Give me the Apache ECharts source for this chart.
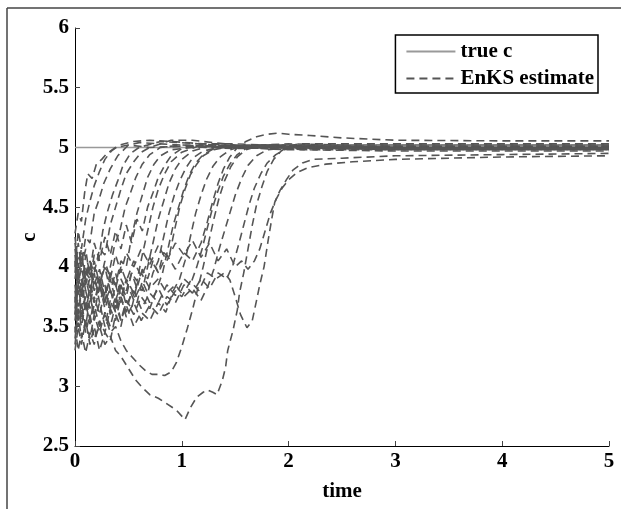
<!DOCTYPE html>
<html>
<head>
<meta charset="utf-8">
<script src="https://cdn.jsdelivr.net/npm/echarts@6/dist/echarts.min.js"></script>
<style>
html,body{margin:0;padding:0;background:#fff;}
#chart{width:621px;height:509px;}
</style>
</head>
<body>
<div id="chart"></div>
<script>
// ---- axis ticks ----
var xTicks = [0, 1, 2, 3, 4, 5];
var yTicks = [2.5, 3, 3.5, 4, 4.5, 5, 5.5, 6];

// ---- true parameter ----
var trueC = [[0, 5], [5, 5]];

// ---- EnKS ensemble estimates, [time, c] ----
var c01 = [[0,4.28],[0.03,4.45],[0.06,4.38],[0.09,4.62],[0.12,4.78],[0.16,4.74],[0.2,4.86],[0.25,4.9],[0.3,4.95],[0.38,5.0],[0.5,5.02],[0.7,5.0],[1.0,5.01],[1.5,4.99],[2,5.0],[3,5.0],[4,5.0],[5,5.0]];
var c02 = [[0,3.9],[0.03,4.1],[0.06,4.02],[0.1,4.25],[0.14,4.2],[0.18,4.45],[0.22,4.55],[0.27,4.7],[0.33,4.82],[0.4,4.93],[0.5,5.02],[0.6,5.04],[0.8,5.03],[1.0,5.02],[1.5,5.0],[2,5.01],[3,5.01],[5,5.01]];
var c03 = [[0,3.6],[0.03,3.85],[0.06,3.75],[0.1,3.95],[0.14,3.9],[0.18,4.1],[0.22,4.05],[0.26,4.3],[0.3,4.45],[0.35,4.6],[0.4,4.72],[0.45,4.85],[0.52,4.95],[0.6,5.0],[0.8,5.05],[1.0,5.04],[1.3,5.02],[1.7,5.0],[2.2,4.99],[3,4.99],[5,4.99]];
var c04 = [[0,4.2],[0.03,3.95],[0.06,4.1],[0.1,3.9],[0.14,4.05],[0.18,3.95],[0.23,4.15],[0.28,4.1],[0.33,4.35],[0.38,4.5],[0.43,4.65],[0.48,4.78],[0.55,4.88],[0.62,4.96],[0.7,5.0],[0.9,5.06],[1.1,5.06],[1.3,5.04],[1.6,5.01],[2,5.0],[3,5.0],[5,5.0]];
var c05 = [[0,3.45],[0.03,3.7],[0.06,3.55],[0.1,3.8],[0.14,3.65],[0.18,3.9],[0.22,3.78],[0.27,4.0],[0.32,3.95],[0.37,4.18],[0.42,4.3],[0.47,4.5],[0.52,4.62],[0.57,4.75],[0.63,4.86],[0.7,4.94],[0.8,5.0],[1.0,5.02],[1.3,5.01],[2,4.98],[3,4.98],[5,4.98]];
var c06 = [[0,3.8],[0.03,3.55],[0.06,3.7],[0.1,3.5],[0.14,3.75],[0.18,3.6],[0.23,3.85],[0.28,3.7],[0.33,3.95],[0.38,3.85],[0.43,4.05],[0.48,4.0],[0.53,4.25],[0.58,4.45],[0.63,4.6],[0.68,4.75],[0.74,4.86],[0.8,4.93],[0.9,4.98],[1.1,5.0],[1.5,5.01],[2,5.02],[3,5.02],[5,5.02]];
var c07 = [[0,4.05],[0.03,3.75],[0.06,3.9],[0.1,3.65],[0.14,3.8],[0.18,3.55],[0.23,3.7],[0.28,3.5],[0.33,3.72],[0.38,3.62],[0.43,3.85],[0.48,3.75],[0.53,3.95],[0.58,3.88],[0.63,4.1],[0.68,4.3],[0.73,4.5],[0.78,4.65],[0.84,4.78],[0.9,4.88],[1.0,4.96],[1.15,5.01],[1.4,5.02],[2,5.0],[3,5.0],[5,5.0]];
var c08 = [[0,3.35],[0.03,3.6],[0.06,3.4],[0.1,3.55],[0.14,3.35],[0.18,3.5],[0.23,3.3],[0.28,3.45],[0.33,3.38],[0.38,3.6],[0.43,3.5],[0.48,3.72],[0.53,3.65],[0.58,3.85],[0.63,3.8],[0.68,4.0],[0.73,4.2],[0.78,4.4],[0.83,4.55],[0.88,4.7],[0.94,4.82],[1.0,4.9],[1.1,4.97],[1.25,5.01],[1.6,5.0],[2,4.99],[3,4.99],[5,4.99]];
var c09 = [[0,3.7],[0.03,4.0],[0.06,3.8],[0.1,4.1],[0.14,3.95],[0.18,4.2],[0.23,4.05],[0.28,4.25],[0.33,4.1],[0.38,4.3],[0.43,4.15],[0.48,4.35],[0.53,4.2],[0.58,4.4],[0.63,4.3],[0.68,4.5],[0.73,4.62],[0.78,4.75],[0.84,4.85],[0.9,4.93],[1.0,4.99],[1.2,5.03],[1.5,5.03],[2,5.01],[3,5.01],[5,5.01]];
var c10 = [[0,3.5],[0.03,3.3],[0.06,3.45],[0.1,3.28],[0.14,3.45],[0.18,3.35],[0.23,3.55],[0.28,3.45],[0.33,3.65],[0.38,3.55],[0.43,3.75],[0.48,3.62],[0.53,3.8],[0.58,3.7],[0.63,3.88],[0.68,3.78],[0.73,3.95],[0.78,4.05],[0.83,4.25],[0.88,4.45],[0.93,4.6],[0.98,4.72],[1.04,4.83],[1.1,4.91],[1.2,4.97],[1.35,5.0],[1.7,5.0],[2.2,4.98],[3,4.97],[5,4.97]];
var c11 = [[0,4.1],[0.03,3.85],[0.06,4.0],[0.1,3.8],[0.14,3.9],[0.18,3.7],[0.23,3.85],[0.28,3.65],[0.33,3.8],[0.38,3.7],[0.43,3.9],[0.48,3.8],[0.53,3.95],[0.58,3.82],[0.63,3.98],[0.68,3.9],[0.73,4.05],[0.78,3.95],[0.83,4.12],[0.88,4.08],[0.93,4.3],[0.98,4.5],[1.03,4.65],[1.08,4.77],[1.14,4.86],[1.2,4.93],[1.3,4.98],[1.45,5.01],[1.8,5.02],[2.2,5.01],[3,5.01],[5,5.01]];
var c12 = [[0,3.55],[0.03,3.8],[0.06,3.6],[0.1,3.75],[0.14,3.55],[0.18,3.68],[0.23,3.5],[0.28,3.6],[0.33,3.45],[0.38,3.5],[0.43,3.38],[0.48,3.3],[0.53,3.25],[0.6,3.18],[0.66,3.13],[0.72,3.1],[0.78,3.1],[0.84,3.09],[0.9,3.12],[0.95,3.2],[1.0,3.33],[1.05,3.48],[1.1,3.64],[1.15,3.82],[1.2,4.0],[1.25,4.2],[1.3,4.4],[1.35,4.58],[1.4,4.72],[1.46,4.84],[1.52,4.92],[1.6,4.98],[1.75,5.02],[2,5.03],[2.5,5.02],[3,5.02],[5,5.02]];
var c13 = [[0,3.75],[0.03,3.5],[0.06,3.65],[0.1,3.45],[0.14,3.6],[0.18,3.4],[0.23,3.5],[0.28,3.35],[0.33,3.42],[0.38,3.3],[0.43,3.25],[0.5,3.15],[0.57,3.05],[0.63,2.99],[0.7,2.93],[0.78,2.9],[0.85,2.86],[0.95,2.8],[1.03,2.72],[1.08,2.82],[1.14,2.91],[1.2,2.95],[1.24,2.97],[1.29,2.95],[1.33,2.93],[1.38,3.05],[1.41,3.16],[1.43,3.3],[1.48,3.47],[1.52,3.64],[1.54,3.78],[1.58,3.95],[1.62,4.15],[1.66,4.35],[1.7,4.52],[1.75,4.67],[1.8,4.8],[1.86,4.9],[1.93,4.97],[2.0,5.01],[2.1,5.03],[2.5,5.03],[3,5.03],[5,5.03]];
var c14 = [[0,3.95],[0.03,4.2],[0.06,4.0],[0.1,4.15],[0.14,3.9],[0.18,4.05],[0.23,3.85],[0.28,4.0],[0.33,3.8],[0.38,3.95],[0.43,3.75],[0.48,3.88],[0.55,3.72],[0.62,3.85],[0.7,3.7],[0.78,3.82],[0.86,3.68],[0.94,3.8],[1.0,3.75],[1.08,3.88],[1.16,3.8],[1.24,3.95],[1.32,3.9],[1.4,3.95],[1.45,3.89],[1.5,3.75],[1.55,3.6],[1.61,3.49],[1.66,3.55],[1.7,3.72],[1.73,3.85],[1.77,4.0],[1.81,4.23],[1.84,4.39],[1.87,4.54],[1.92,4.64],[1.98,4.73],[2.04,4.81],[2.13,4.87],[2.23,4.9],[2.5,4.91],[3.0,4.93],[4,4.94],[5,4.95]];
var c15 = [[0,3.65],[0.03,3.95],[0.06,3.75],[0.1,4.0],[0.14,3.8],[0.18,3.95],[0.23,3.7],[0.28,3.85],[0.33,3.6],[0.38,3.75],[0.43,3.55],[0.48,3.68],[0.55,3.5],[0.62,3.62],[0.7,3.55],[0.78,3.7],[0.85,3.62],[0.92,3.8],[0.98,3.9],[1.03,4.05],[1.08,4.25],[1.13,4.45],[1.18,4.6],[1.23,4.73],[1.29,4.84],[1.36,4.92],[1.45,4.98],[1.6,5.02],[2,5.02],[3,5.0],[5,5.0]];
var c16 = [[0,4.25],[0.03,4.0],[0.06,4.15],[0.1,3.92],[0.14,4.05],[0.18,3.85],[0.23,3.98],[0.28,3.78],[0.33,3.9],[0.38,3.72],[0.43,3.85],[0.48,3.68],[0.55,3.8],[0.62,3.65],[0.7,3.78],[0.78,3.7],[0.86,3.85],[0.94,3.76],[1.02,3.9],[1.08,3.85],[1.14,4.0],[1.19,4.15],[1.24,4.33],[1.29,4.5],[1.34,4.64],[1.39,4.76],[1.45,4.86],[1.52,4.94],[1.6,4.99],[1.75,5.02],[2,5.01],[3,4.99],[5,4.99]];
var c17 = [[0,3.85],[0.03,3.6],[0.06,3.8],[0.1,3.62],[0.14,3.85],[0.18,3.7],[0.23,3.9],[0.28,3.75],[0.33,3.95],[0.38,3.82],[0.43,4.0],[0.48,3.88],[0.55,4.05],[0.62,3.92],[0.7,4.08],[0.78,3.95],[0.86,4.1],[0.94,3.98],[1.02,4.12],[1.1,4.05],[1.18,4.2],[1.24,4.38],[1.29,4.55],[1.34,4.7],[1.39,4.82],[1.45,4.92],[1.52,5.0],[1.6,5.05],[1.7,5.09],[1.8,5.11],[1.9,5.12],[2.0,5.11],[2.2,5.1],[2.5,5.08],[3.0,5.06],[4,5.055],[5,5.055]];
var c18 = [[0,3.4],[0.03,3.65],[0.06,3.5],[0.1,3.7],[0.14,3.52],[0.18,3.75],[0.23,3.6],[0.28,3.8],[0.33,3.65],[0.38,3.85],[0.43,3.7],[0.48,3.9],[0.55,3.78],[0.62,3.95],[0.7,3.82],[0.78,3.9],[0.86,3.78],[0.94,3.85],[1.02,3.75],[1.1,3.82],[1.18,3.72],[1.25,3.85],[1.3,3.98],[1.35,4.15],[1.4,4.3],[1.45,4.45],[1.5,4.6],[1.56,4.74],[1.62,4.85],[1.7,4.93],[1.8,4.98],[2,5.0],[3,4.98],[5,4.98]];
var c19 = [[0,4.15],[0.03,3.9],[0.06,4.08],[0.1,3.85],[0.14,4.0],[0.18,3.8],[0.23,3.92],[0.28,3.7],[0.33,3.82],[0.38,3.62],[0.43,3.75],[0.48,3.58],[0.55,3.7],[0.62,3.55],[0.7,3.68],[0.78,3.6],[0.86,3.75],[0.94,3.7],[1.02,3.85],[1.1,3.78],[1.18,3.9],[1.26,3.82],[1.34,3.95],[1.42,3.9],[1.48,4.02],[1.53,4.18],[1.58,4.35],[1.63,4.52],[1.68,4.66],[1.74,4.78],[1.8,4.87],[1.88,4.94],[1.96,4.98],[2.1,5.01],[2.5,5.01],[3,5.0],[5,5.0]];
var c20 = [[0,3.6],[0.03,3.85],[0.06,3.65],[0.1,3.9],[0.14,3.75],[0.18,4.0],[0.23,3.85],[0.28,4.05],[0.33,3.9],[0.38,4.1],[0.43,3.95],[0.48,4.12],[0.55,4.0],[0.62,4.15],[0.7,4.02],[0.78,4.18],[0.86,4.05],[0.94,4.2],[1.02,4.1],[1.1,4.22],[1.18,4.08],[1.26,4.2],[1.34,4.05],[1.42,4.15],[1.5,4.0],[1.56,4.05],[1.62,3.98],[1.68,4.05],[1.73,4.15],[1.78,4.3],[1.83,4.45],[1.88,4.56],[1.94,4.66],[2.0,4.73],[2.08,4.79],[2.18,4.83],[2.35,4.86],[2.6,4.88],[3.0,4.9],[3.5,4.91],[4,4.92],[5,4.93]];
var c21 = [[0,4.0],[0.03,4.3],[0.06,4.15],[0.1,4.4],[0.14,4.55],[0.18,4.68],[0.23,4.8],[0.28,4.9],[0.34,4.97],[0.42,5.02],[0.55,5.05],[0.7,5.06],[0.9,5.05],[1.2,5.03],[1.6,5.01],[2,5.0],[3,4.99],[5,4.99]];
var c22 = [[0,3.3],[0.03,3.5],[0.06,3.35],[0.1,3.55],[0.14,3.4],[0.18,3.6],[0.23,3.45],[0.28,3.62],[0.33,3.5],[0.38,3.68],[0.43,3.55],[0.48,3.72],[0.55,3.6],[0.62,3.75],[0.7,3.65],[0.76,3.8],[0.82,3.95],[0.87,4.15],[0.92,4.35],[0.97,4.5],[1.02,4.65],[1.07,4.77],[1.13,4.87],[1.2,4.94],[1.3,4.99],[1.5,5.01],[2,5.0],[3,4.99],[5,4.99]];

var ensemble = [c01,c02,c03,c04,c05,c06,c07,c08,c09,c10,c11,c12,c13,c14,c15,c16,c17,c18,c19,c20,c21,c22];

var FONT = 'Liberation Serif';
var FS = 21;
var chart = echarts.init(document.getElementById('chart'), null, {renderer: 'canvas'});

var series = [{
  name: 'true c',
  type: 'line',
  data: trueC,
  symbol: 'none',
  lineStyle: {color: '#999999', width: 1.5, type: 'solid'},
  itemStyle: {color: '#999999'},
  z: 2
}];
ensemble.forEach(function (d) {
  series.push({
    name: 'EnKS estimate',
    type: 'line',
    data: d,
    symbol: 'none',
    lineStyle: {color: '#555555', width: 1.6, type: [8, 5]},
    itemStyle: {color: '#555555'},
    z: 3
  });
});

chart.setOption({
  animation: false,
  backgroundColor: '#ffffff',
  grid: {left: 75, right: 12, top: 28, bottom: 63, containLabel: false},
  xAxis: {
    type: 'value',
    min: xTicks[0], max: xTicks[xTicks.length - 1], interval: 1,
    name: 'time', nameLocation: 'middle', nameGap: 35, nameMoveOverlap: false,
    nameTextStyle: {fontFamily: FONT, fontWeight: 'bold', fontSize: FS, color: '#000'},
    axisLine: {show: true, lineStyle: {color: '#000', width: 1}},
    axisTick: {show: true, inside: true, length: 5, lineStyle: {color: '#444'}},
    axisLabel: {fontFamily: FONT, fontWeight: 'bold', fontSize: FS, color: '#000', margin: 5},
    splitLine: {show: false}
  },
  yAxis: {
    type: 'value',
    min: yTicks[0], max: yTicks[yTicks.length - 1], interval: 0.5,
    name: 'c', nameLocation: 'middle', nameGap: 35, nameMoveOverlap: false,
    nameTextStyle: {fontFamily: FONT, fontWeight: 'bold', fontSize: FS, color: '#000'},
    axisLine: {show: true, lineStyle: {color: '#000', width: 1}},
    axisTick: {show: true, inside: true, length: 5, lineStyle: {color: '#444'}},
    axisLabel: {fontFamily: FONT, fontWeight: 'bold', fontSize: FS, color: '#000', margin: 6},
    splitLine: {show: false}
  },
  legend: {
    data: ['true c', 'EnKS estimate'],
    orient: 'vertical',
    right: 23, top: 35,
    padding: [6, 4, 4, 10],
    itemWidth: 49, itemHeight: 14, itemGap: 6,
    borderColor: '#000', borderWidth: 1.5,
    backgroundColor: '#fff',
    selectedMode: false,
    itemStyle: {opacity: 0},
    textStyle: {fontFamily: FONT, fontWeight: 'bold', fontSize: FS, color: '#000'}
  },
  graphic: [
    {type: 'line', shape: {x1: 7, y1: 8, x2: 621, y2: 8}, style: {stroke: '#444', lineWidth: 1.5}},
    {type: 'line', shape: {x1: 7, y1: 8, x2: 7, y2: 509}, style: {stroke: '#444', lineWidth: 1.5}}
  ],
  series: series
});
</script>
</body>
</html>
